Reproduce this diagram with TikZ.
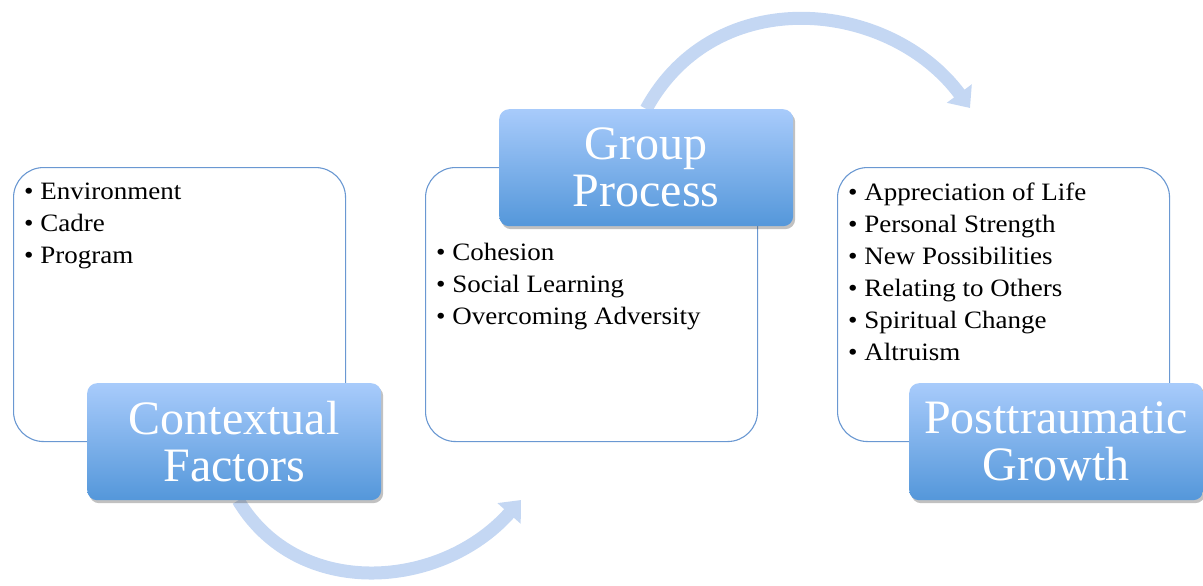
\documentclass[tikz,border=0pt]{standalone}
\usepackage{fontspec}
\setmainfont{Liberation Serif}
\newfontfamily\listfont[FakeStretch=1.08]{Liberation Serif}
\usetikzlibrary{arrows.meta,shadows,backgrounds,positioning}
\definecolor{edgeblue}{HTML}{6A98D2}
\definecolor{toplight}{HTML}{A8CBFB}
\definecolor{botdark}{HTML}{5497DA}
\definecolor{arcblue}{HTML}{C4D7F3}

\begin{document}
\begin{tikzpicture}[x=1pt,y=-1pt]
\tikzstyle{panel} = [draw=edgeblue, line width=1.1pt, fill=white, rounded corners=30pt,
  inner sep=0pt, minimum width=332pt, minimum height=274pt, anchor=north west]
\tikzstyle{title} = [rounded corners=10pt, top color=toplight, bottom color=botdark,
  text=white, align=center, inner sep=0pt, minimum width=294pt, minimum height=117pt,
  anchor=north west, font=\fontsize{48}{47}\selectfont,
  drop shadow={shadow xshift=2pt, shadow yshift=-3pt, opacity=0.35, fill=black!70}]
\tikzstyle{items} = [align=left, inner sep=0pt, anchor=north west,
  font=\listfont\fontsize{25}{32}\selectfont]
\tikzstyle{flow} = [-{Triangle[width=30pt,length=18pt]}, line width=13pt, draw=arcblue]

    \useasboundingbox (0,0) rectangle (1203,586);

    % white panels
    \node [panel] (ctxbox) at (13,167) {};
    \node [panel] (grpbox) at (425,167) {};
    \node [panel] (ptgbox) at (837,167) {};

    % bullet lists
    \node [items] (ctxlist) at (24,183)
      {\textbullet\ Environment\\\textbullet\ Cadre\\\textbullet\ Program};
    \node [items] (grplist) at (436,243)
      {\textbullet\ Cohesion\\\textbullet\ Social Learning\\\textbullet\ Overcoming Adversity};
    \node [items] (ptglist) at (848,183)
      {\textbullet\ Appreciation of Life\\\textbullet\ Personal Strength\\
       \textbullet\ New Possibilities\\\textbullet\ Relating to Others\\
       \textbullet\ Spiritual Change\\\textbullet\ Altruism};

    % title boxes
    \node [title] (ctx) at (87,383) {Contextual\\Factors};
    \node [title] (grp) at (499,109) {Group\\Process};
    \node [title] (ptg) at (909,383) {Posttraumatic\\Growth};

    % curved arrows
    \coordinate (lowtip) at (521,500);
    \coordinate (hightip) at (970,108);
    \begin{scope}[on background layer]
    \path [flow] ([xshift=4pt]ctx.south) .. controls +(60,100) and +(-80,90) .. (lowtip);
    \path [flow] (grp.north) .. controls +(70,-128) and +(-80,-108) .. (hightip);
    \end{scope}
\end{tikzpicture}
\end{document}
